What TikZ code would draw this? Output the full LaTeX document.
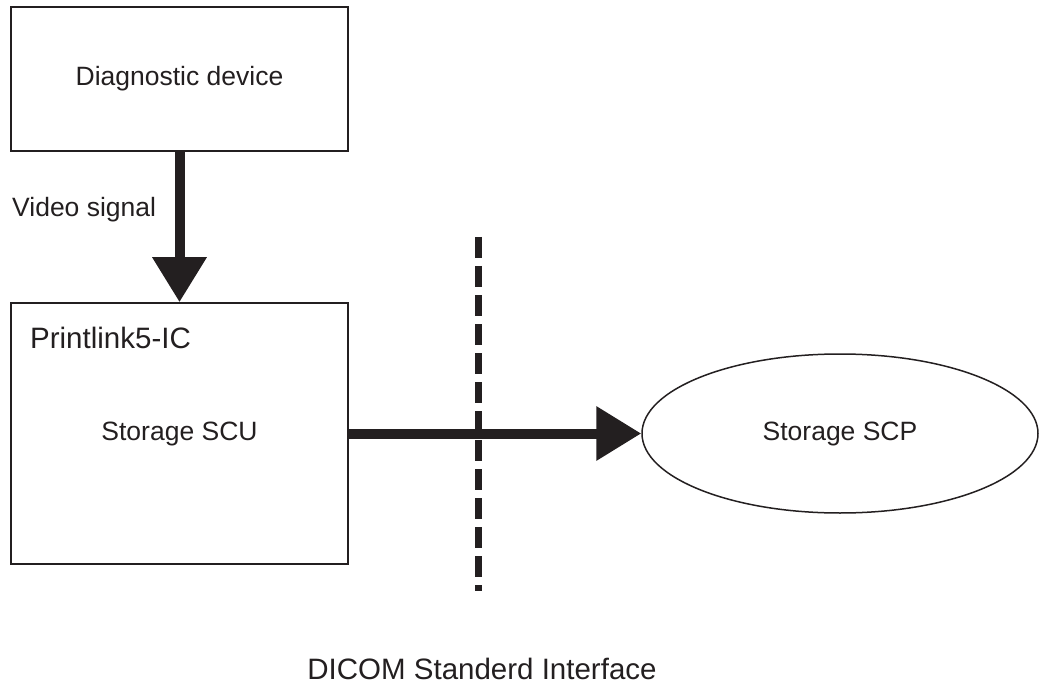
\documentclass[tikz,border=0pt]{standalone}
\usepackage{fontspec}
\setmainfont{Liberation Sans}
\usetikzlibrary{arrows.meta,positioning,shapes.geometric}
\definecolor{ink}{HTML}{231F20}

\begin{document}
\begin{tikzpicture}[x=1pt,y=-1pt,>={Triangle[length=45pt,width=52pt]},
    color=ink,font=\fontsize{26.5}{31}\selectfont,
    big/.style={font=\fontsize{29.5}{35}\selectfont},
    unit/.style={rectangle,draw,line width=1.6pt,minimum width=337pt},
    service/.style={ellipse,draw,line width=1.5pt,minimum width=396pt,minimum height=159pt},
    flow/.style={->,line width=10pt},
    border/.style={line width=7pt,dash pattern=on 21pt off 8pt}]

  \useasboundingbox (0,0) rectangle (1039,687);

  \node[unit,minimum height=144pt] (diag) at (179.5,79)  {Diagnostic device};
  \node[unit,minimum height=261pt] (plink) at (179.5,433.5) {Storage SCU};
  \node[big,anchor=base west,inner sep=0pt] (plinkname) at (30,348) {Printlink5-IC};
  \node[service] (scp) at (840,433.5) {Storage SCP};

  \node[anchor=base west,inner sep=0pt] (video) at (12,217) {Video signal};
  \node[big,anchor=base,inner sep=0pt] (dicom) at (482,679) {DICOM Standerd Interface};

  \coordinate (dtop) at (478,237);
  \coordinate (dbot) at (478,591);

  \draw[border] (dtop) -- (dbot);
  \draw[flow] (diag) -- (plink);
  \draw[flow] (plink) -- (scp);
\end{tikzpicture}
\end{document}
